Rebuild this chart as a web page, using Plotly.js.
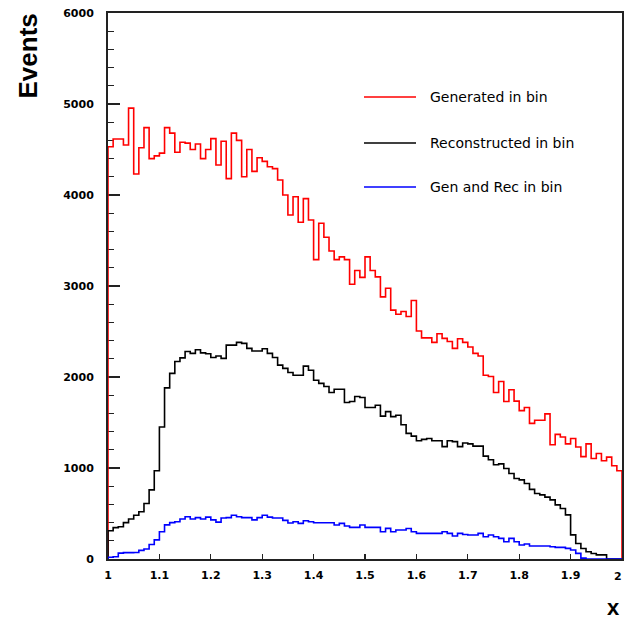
<!DOCTYPE html>
<html><head><meta charset="utf-8">
<script src="https://cdn.plot.ly/plotly-3.0.1.min.js"></script>
<style>html,body{margin:0;padding:0;background:#fff}</style>
</head><body><div id="chart" style="width:624px;height:621px"></div>
<script>
// Histogram binning: 100 bins from 1 to 2
const binLow = 1.0;
const binWidth = 0.01;

const generated = [
 4530,4615,4615,4550,4955,4230,4520,4740,4400,4430,
 4460,4740,4680,4470,4580,4570,4500,4560,4400,4500,
 4620,4330,4590,4180,4680,4600,4200,4500,4260,4410,
 4370,4310,4290,4165,4000,3780,3980,3700,3960,3725,
 3290,3690,3535,3385,3290,3320,3290,3020,3170,3095,
 3320,3170,3100,2880,2975,2735,2690,2720,2665,2840,
 2505,2430,2430,2380,2475,2425,2390,2315,2420,2380,
 2330,2260,2230,2020,2005,1830,1950,1730,1860,1735,
 1630,1665,1490,1525,1525,1595,1255,1370,1340,1265,
 1325,1230,1125,1265,1105,1160,1080,1120,1025,970];

const reconstructed = [
 310,345,355,400,440,480,520,610,760,970,
 1450,1880,2040,2170,2210,2280,2260,2300,2265,2255,
 2215,2230,2205,2350,2350,2380,2370,2315,2285,2285,
 2310,2260,2215,2130,2095,2050,2020,2020,2120,2075,
 1965,1930,1895,1830,1865,1865,1720,1730,1785,1775,
 1665,1665,1690,1570,1620,1565,1580,1475,1380,1350,
 1300,1315,1325,1300,1300,1235,1300,1290,1235,1275,
 1265,1240,1240,1130,1090,1035,1045,995,940,885,
 870,830,765,720,705,680,650,595,555,485,
 265,170,115,80,60,45,45,0,0,0];

const genAndRec = [
 20,25,65,70,70,72,95,110,160,210,
 300,375,400,410,440,465,440,455,440,460,
 430,405,450,455,480,465,455,455,430,455,
 480,460,450,450,425,395,410,392,421,410,
 399,399,399,399,374,392,363,348,348,374,
 348,348,348,300,337,300,319,319,335,300,
 282,282,282,282,282,300,282,252,282,270,
 264,264,282,245,264,245,227,190,227,190,
 154,165,143,143,143,143,135,128,128,117,
 99,62,10,0,0,0,0,0,0,0];

const seriesNames = ['Generated in bin', 'Reconstructed in bin', 'Gen and Rec in bin'];
const seriesData = [generated, reconstructed, genAndRec];
const seriesColors = ['#ff0000', '#000000', '#0000ff'];

const xTickVals = [1, 1.1, 1.2, 1.3, 1.4, 1.5, 1.6, 1.7, 1.8, 1.9, 2];
const xTickText = ['1', '1.1', '1.2', '1.3', '1.4', '1.5', '1.6', '1.7', '1.8', '1.9', '2'];
const yTickVals = [0, 1000, 2000, 3000, 4000, 5000, 6000];
const yTickText = ['0', '1000', '2000', '3000', '4000', '5000', '6000'];

function stepXY(vals) {
  const x = [binLow], y = [0];
  vals.forEach((v, i) => { x.push(binLow + i * binWidth); y.push(v); });
  x.push(binLow + vals.length * binWidth); y.push(0);
  return {x, y};
}

const traces = seriesData.map((vals, i) => {
  const s = stepXY(vals);
  return {type: 'scatter', mode: 'lines', x: s.x, y: s.y, name: seriesNames[i],
          line: {shape: 'hv', color: seriesColors[i], width: 1.6}, showlegend: false,
          hoverinfo: 'skip'};
});

// layout geometry
const L = 108, R = 2, T = 13, B = 62, W = 624, H = 621;
const pw = W - L - R, ph = H - T - B;
const px2x = p => (p - L) / pw;
const py2y = p => (H - B - p) / ph;

const tickFont = {family: 'DejaVu Sans, sans-serif', size: 11, color: '#000', weight: 'bold'};

const shapes = [], annotations = [];
const legendY = [97, 143, 187];
seriesNames.forEach((n, i) => {
  shapes.push({type: 'line', xref: 'paper', yref: 'paper', x0: px2x(364), x1: px2x(416),
               y0: py2y(legendY[i]), y1: py2y(legendY[i]), line: {color: seriesColors[i], width: 1.6}});
  annotations.push({xref: 'paper', yref: 'paper', x: px2x(428), y: py2y(legendY[i]), xanchor: 'left',
                    yanchor: 'middle', showarrow: false, text: n,
                    font: {family: 'DejaVu Sans, sans-serif', size: 14, color: '#000'}});
});
annotations.push({xref: 'paper', yref: 'paper', x: px2x(27), y: py2y(12), xanchor: 'center', yanchor: 'top',
                  textangle: -90, showarrow: false, text: '<b>Events</b>',
                  font: {family: 'Liberation Sans, Arial, sans-serif', size: 26, color: '#000'}});
annotations.push({xref: 'paper', yref: 'paper', x: px2x(613), y: py2y(607), xanchor: 'center', yanchor: 'middle',
                  showarrow: false, text: '<b>x</b>',
                  font: {family: 'Liberation Sans, Arial, sans-serif', size: 22, color: '#000'}});
// last x tick label placed just inside the page edge
const lastIdx = xTickVals.length - 1;
annotations.push({xref: 'x', yref: 'paper', x: xTickVals[lastIdx], y: py2y(568), xanchor: 'right', yanchor: 'top',
                  xshift: 2, showarrow: false, text: xTickText[lastIdx], font: tickFont});

const layout = {
  width: W, height: H,
  margin: {l: L, r: R, t: T, b: B, pad: 0},
  paper_bgcolor: '#fff', plot_bgcolor: '#fff',
  showlegend: false,
  xaxis: {range: [1, 2], showgrid: false, zeroline: false, showline: true, mirror: true,
          linecolor: '#222', linewidth: 2, ticks: 'inside', ticklen: 5, tickwidth: 1.2, tickcolor: '#222',
          tickvals: xTickVals, ticktext: xTickText.map((t, i) => i === lastIdx ? '' : t),
          tickfont: tickFont, ticklabelstandoff: 5,
          layer: 'below traces', fixedrange: true},
  yaxis: {range: [0, 6000], showgrid: false, zeroline: false, showline: true, mirror: true,
          linecolor: '#222', linewidth: 2, ticks: 'inside', ticklen: 12, tickwidth: 1.2, tickcolor: '#222',
          tickvals: yTickVals, ticktext: yTickText, tickfont: tickFont, ticklabelstandoff: 10,
          minor: {dtick: 200, ticks: 'inside', ticklen: 6, tickwidth: 1.2, tickcolor: '#222', showgrid: false},
          layer: 'below traces', fixedrange: true},
  shapes: shapes,
  annotations: annotations
};

Plotly.newPlot('chart', traces, layout, {staticPlot: true, displayModeBar: false});
</script>
</body></html>
